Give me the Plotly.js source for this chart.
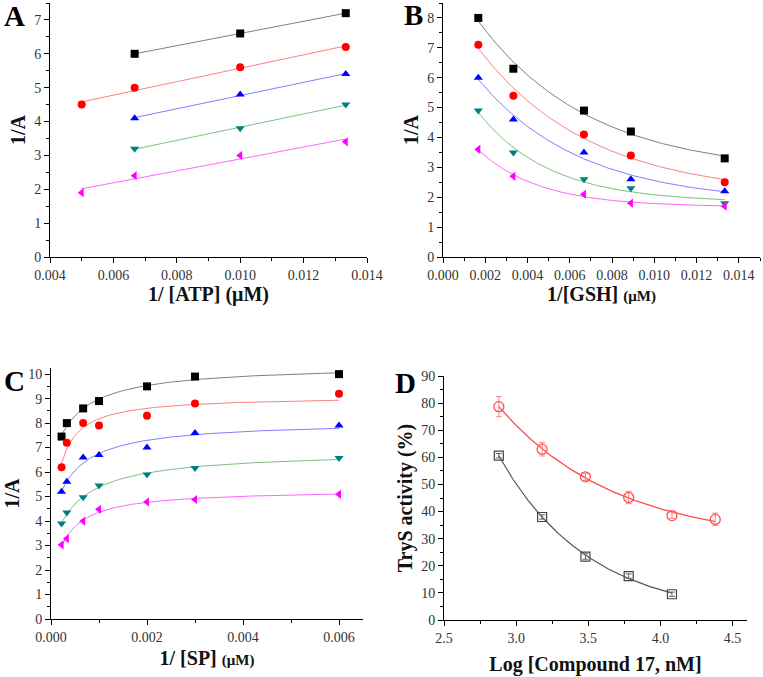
<!DOCTYPE html>
<html>
<head>
<meta charset="utf-8">
<script src="https://cdn.plot.ly/plotly-3.0.1.min.js"></script>
<style>html,body{margin:0;padding:0;background:#fff;}#chart{width:763px;height:677px;}</style>
</head>
<body>
<div id="chart"></div>
<script>
// ---------- Panel A: 1/[ATP] ----------
const aX_black = [0.00667, 0.01, 0.01333];
const aY_black = [6.0, 6.6, 7.2];
const aX_red = [0.005, 0.00667, 0.01, 0.01333];
const aY_red = [4.5, 5.0, 5.6, 6.2];
const aX_blue = [0.00667, 0.01, 0.01333];
const aY_blue = [4.1, 4.8, 5.4];
const aX_green = [0.00667, 0.01, 0.01333];
const aY_green = [3.2, 3.8, 4.5];
const aX_mag = [0.005, 0.00667, 0.01, 0.01333];
const aY_mag = [1.9, 2.4, 3.0, 3.4];

// ---------- Panel B: 1/[GSH] ----------
const bX = [0.00167, 0.00333, 0.00667, 0.00889, 0.01333];
const bY_black = [8.0, 6.3, 4.9, 4.2, 3.3];
const bY_red = [7.1, 5.4, 4.1, 3.4, 2.5];
const bY_blue = [6.0, 4.6, 3.5, 2.6, 2.2];
const bY_green = [4.9, 3.5, 2.6, 2.3, 1.8];
const bY_mag = [3.6, 2.7, 2.1, 1.8, 1.7];

// ---------- Panel C: 1/[SP] ----------
const cX = [0.00022, 0.00033, 0.00067, 0.001, 0.002, 0.003, 0.006];
const cY_black = [7.45, 8.0, 8.6, 8.9, 9.5, 9.9, 10.0];
const cY_red = [6.2, 7.2, 8.0, 7.9, 8.3, 8.8, 9.2];
const cY_blue = [5.2, 5.6, 6.6, 6.7, 7.0, 7.6, 7.9];
const cY_green = [3.9, 4.35, 4.97, 5.45, 5.9, 6.17, 6.57];
const cY_mag = [3.03, 3.28, 4.0, 4.48, 4.78, 4.88, 5.09];

// ---------- Panel D: TryS activity ----------
const dX_black = [2.88, 3.18, 3.48, 3.78, 4.08];
const dY_black = [60.6, 38.0, 23.4, 16.2, 9.5];
const dE_black = [0.8, 0.8, 1.0, 0.8, 0.8];
const dX_red = [2.88, 3.18, 3.48, 3.78, 4.08, 4.38];
const dY_red = [78.7, 63.0, 52.8, 45.2, 38.5, 37.1];
const dE_red = [3.7, 2.5, 1.3, 2.3, 1.0, 2.3];

// ---------- fitting helpers ----------
function ls2(f, y) { // y = c + a*f
  const n = f.length;
  let sf = 0, sy = 0, sff = 0, sfy = 0;
  for (let i = 0; i < n; i++) { sf += f[i]; sy += y[i]; sff += f[i]*f[i]; sfy += f[i]*y[i]; }
  const den = n*sff - sf*sf;
  const a = den === 0 ? 0 : (n*sfy - sf*sy)/den;
  const c = (sy - a*sf)/n;
  let sse = 0;
  for (let i = 0; i < n; i++) { const r = y[i] - (c + a*f[i]); sse += r*r; }
  return {a, c, sse};
}
function linspace(a, b, n) { const o = []; for (let i = 0; i < n; i++) o.push(a + (b-a)*i/(n-1)); return o; }
function fitLine(x, y) {
  const r = ls2(x, y);
  return v => r.c + r.a*v;
}
function fitExp(x, y) {
  const span = Math.max(...x) - Math.min(...x);
  let best = null;
  for (let k = 0; k <= 400; k++) {
    const t = span * Math.pow(10, -2 + 3*k/400);
    const f = x.map(v => Math.exp(-v/t));
    const r = ls2(f, y);
    if (!best || r.sse < best.sse) best = {t, a: r.a, c: r.c, sse: r.sse};
  }
  return v => best.c + best.a*Math.exp(-v/best.t);
}
function fitHyp(x, y) {
  let best = null;
  for (let k = 0; k <= 400; k++) {
    const K = Math.pow(10, -6 + 4*k/400);
    const f = x.map(v => v/(K+v));
    const r = ls2(f, y);
    if (!best || r.sse < best.sse) best = {K, a: r.a, c: r.c, sse: r.sse};
  }
  return v => best.c + best.a*v/(best.K+v);
}
function curve(x, fn) {
  const xs = linspace(Math.min(...x), Math.max(...x), 120);
  return {x: xs, y: xs.map(fn)};
}

const styles = [
  {m: '#000000', l: '#808080', s: 'square'},
  {m: '#ff0000', l: '#ff8080', s: 'circle'},
  {m: '#0000ff', l: '#8080ff', s: 'triangle-up'},
  {m: '#008080', l: '#80c080', s: 'triangle-down'},
  {m: '#ff00ff', l: '#ff66ff', s: 'triangle-left'}
];

const traces = [];
function addSet(xs, ys, fitter, xa, ya) {
  for (let i = 0; i < ys.length; i++) {
    const st = styles[i];
    const c = curve(xs[i], fitter(xs[i], ys[i]));
    traces.push({x: c.x, y: c.y, xaxis: xa, yaxis: ya, mode: 'lines', type: 'scatter',
      line: {color: st.l, width: 1}, hoverinfo: 'skip', showlegend: false});
    traces.push({x: xs[i], y: ys[i], xaxis: xa, yaxis: ya, mode: 'markers', type: 'scatter',
      marker: {symbol: st.s, color: st.m, size: 8}, showlegend: false});
  }
}
addSet([aX_black, aX_red, aX_blue, aX_green, aX_mag],
       [aY_black, aY_red, aY_blue, aY_green, aY_mag], fitLine, 'x', 'y');
addSet([bX, bX, bX, bX, bX],
       [bY_black, bY_red, bY_blue, bY_green, bY_mag], fitExp, 'x2', 'y2');
addSet([cX, cX, cX, cX, cX],
       [cY_black, cY_red, cY_blue, cY_green, cY_mag], fitHyp, 'x3', 'y3');

// Panel D
const dcRed = curve(dX_red, fitExp(dX_red, dY_red));
const dcBlack = curve(dX_black, fitExp(dX_black, dY_black));
traces.push({x: dcRed.x, y: dcRed.y, xaxis: 'x4', yaxis: 'y4', mode: 'lines', type: 'scatter',
  line: {color: '#ff4d4d', width: 1.3}, hoverinfo: 'skip', showlegend: false});
traces.push({x: dcBlack.x, y: dcBlack.y, xaxis: 'x4', yaxis: 'y4', mode: 'lines', type: 'scatter',
  line: {color: '#555555', width: 1.2}, hoverinfo: 'skip', showlegend: false});
traces.push({x: dX_red, y: dY_red, xaxis: 'x4', yaxis: 'y4', mode: 'markers', type: 'scatter',
  marker: {symbol: 'circle-open', color: '#ff5050', size: 10, line: {width: 1.3}},
  error_y: {type: 'data', array: dE_red, visible: true, color: '#ff8080', thickness: 1, width: 3},
  showlegend: false});
traces.push({x: dX_black, y: dY_black, xaxis: 'x4', yaxis: 'y4', mode: 'markers', type: 'scatter',
  marker: {symbol: 'square-open', color: '#444444', size: 9, line: {width: 1.2}},
  error_y: {type: 'data', array: dE_black, visible: true, color: '#666666', thickness: 1, width: 3},
  showlegend: false});

const FONT = 'Liberation Serif';
const W = 763, H = 677;
function dx(a, b) { return [a/W, b/W]; }
function dy(top, bot) { return [1 - bot/H, 1 - top/H]; }
function ax(extra) {
  return Object.assign({
    showline: true, linecolor: '#000', linewidth: 1,
    ticks: 'outside', ticklen: 5, tickwidth: 1, tickcolor: '#000',
    showgrid: false, zeroline: false, automargin: false,
    tickfont: {family: FONT, size: 14, color: '#333'}
  }, extra);
}
function mn(d) { return {ticks: 'outside', ticklen: 3, tickwidth: 1, tickcolor: '#000', dtick: d, showgrid: false}; }
function ttl(text, standoff) {
  return {text: text, font: {family: FONT, size: 20, color: '#111'}, standoff: standoff};
}
const small = s => '<span style="font-size:15px">' + s + '</span>';

const layout = {
  width: W, height: H,
  margin: {l: 0, r: 0, t: 0, b: 0},
  paper_bgcolor: '#fff', plot_bgcolor: '#fff',
  showlegend: false,
  xaxis: ax({domain: dx(50, 367), anchor: 'y', range: [0.004, 0.014], dtick: 0.002, tick0: 0.004,
    tickformat: '.3f', minor: mn(0.001),
    title: ttl('<b>1/ [ATP] (μM)</b>', 3)}),
  yaxis: ax({domain: dy(3, 257), anchor: 'x', range: [0, 7.5], dtick: 1, minor: mn(0.5),
    title: ttl('<b>1/A</b>', 3)}),
  xaxis2: ax({domain: dx(443, 760), anchor: 'y2', range: [0, 0.015], dtick: 0.002, tick0: 0,
    tickformat: '.3f', minor: mn(0.001),
    title: ttl('<b>1/[GSH] ' + small('(μM)') + '</b>', 3)}),
  yaxis2: ax({domain: dy(3, 257), anchor: 'x2', range: [0, 8.5], dtick: 1, minor: mn(0.5),
    title: ttl('<b>1/A</b>', 3)}),
  xaxis3: ax({domain: dx(51, 363), anchor: 'y3', range: [0, 0.0065], dtick: 0.002, tick0: 0,
    tickformat: '.3f', minor: mn(0.001),
    title: ttl('<b>1/ [SP] ' + small('(μM)') + '</b>', 7)}),
  yaxis3: ax({domain: dy(368, 619), anchor: 'x3', range: [0, 10.25], dtick: 1, minor: mn(0.5),
    title: ttl('<b>1/A</b>', 3)}),
  xaxis4: ax({domain: dx(444, 747), anchor: 'y4', range: [2.5, 4.6], dtick: 0.5, tick0: 2.5,
    tickformat: '.1f', minor: mn(0.25),
    title: ttl('<b>Log [Compound 17, nM]</b>', 12)}),
  yaxis4: ax({domain: dy(376, 620), anchor: 'x4', range: [0, 90], dtick: 10, minor: mn(5),
    title: ttl('<b>TryS activity (%)</b>', 3)}),
  annotations: [
    {text: '<b>A</b>', x: 14/W, y: 1 - 16/H},
    {text: '<b>B</b>', x: 413/W, y: 1 - 15/H},
    {text: '<b>C</b>', x: 14/W, y: 1 - 381/H},
    {text: '<b>D</b>', x: 405/W, y: 1 - 383/H}
  ].map(a => Object.assign({xref: 'paper', yref: 'paper', xanchor: 'center', yanchor: 'middle',
    showarrow: false, font: {family: FONT, size: 29, color: '#000'}}, a))
};

Plotly.newPlot('chart', traces, layout, {displayModeBar: false, staticPlot: true});
</script>
</body>
</html>
